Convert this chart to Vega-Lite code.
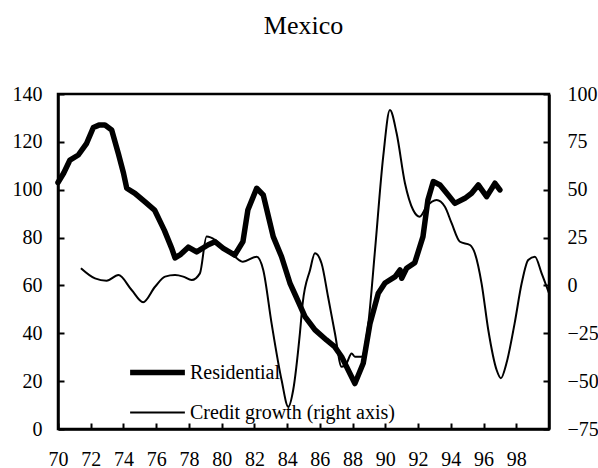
{
  "$schema": "https://vega.github.io/schema/vega-lite/v6.json",
  "autosize": "none",
  "width": 491,
  "height": 335,
  "padding": {"left": 58, "top": 94, "right": 49, "bottom": 39},
  "background": "white",
  "title": {"text": "Mexico", "font": "Liberation Serif", "fontSize": 26, "fontWeight": "normal", "color": "black", "anchor": "middle", "offset": 45},
  "config": {
    "view": {"stroke": "black", "strokeWidth": 2.5},
    "axis": {"labelFont": "Liberation Serif", "labelFontSize": 20, "labelColor": "black", "domainColor": "black", "domainWidth": 2.5, "tickColor": "black", "tickWidth": 2, "tickSize": -6, "grid": false, "title": null}
  },
  "datasets": {
    "res": [
      {"series": "Residential", "year": 70.0, "v": 103},
      {"series": "Residential", "year": 70.35, "v": 107},
      {"series": "Residential", "year": 70.73, "v": 112.4},
      {"series": "Residential", "year": 71.24, "v": 114.5},
      {"series": "Residential", "year": 71.75, "v": 119.4},
      {"series": "Residential", "year": 72.16, "v": 126},
      {"series": "Residential", "year": 72.5, "v": 127},
      {"series": "Residential", "year": 72.87, "v": 127},
      {"series": "Residential", "year": 73.28, "v": 125},
      {"series": "Residential", "year": 73.69, "v": 115},
      {"series": "Residential", "year": 74.0, "v": 107},
      {"series": "Residential", "year": 74.2, "v": 100.6},
      {"series": "Residential", "year": 74.7, "v": 98.5},
      {"series": "Residential", "year": 75.3, "v": 95},
      {"series": "Residential", "year": 75.9, "v": 91.5},
      {"series": "Residential", "year": 76.5, "v": 83},
      {"series": "Residential", "year": 76.95, "v": 75.5},
      {"series": "Residential", "year": 77.15, "v": 71.5},
      {"series": "Residential", "year": 77.5, "v": 73},
      {"series": "Residential", "year": 77.96, "v": 76},
      {"series": "Residential", "year": 78.47, "v": 74},
      {"series": "Residential", "year": 79.18, "v": 77},
      {"series": "Residential", "year": 79.59, "v": 78.3},
      {"series": "Residential", "year": 80.1, "v": 75.5},
      {"series": "Residential", "year": 80.8, "v": 72.7},
      {"series": "Residential", "year": 81.3, "v": 78.3},
      {"series": "Residential", "year": 81.6, "v": 91.5},
      {"series": "Residential", "year": 82.14, "v": 100.6},
      {"series": "Residential", "year": 82.54, "v": 97.8},
      {"series": "Residential", "year": 83.15, "v": 80.4},
      {"series": "Residential", "year": 83.66, "v": 72},
      {"series": "Residential", "year": 84.17, "v": 61},
      {"series": "Residential", "year": 84.5, "v": 56},
      {"series": "Residential", "year": 85.09, "v": 47},
      {"series": "Residential", "year": 85.7, "v": 41.4},
      {"series": "Residential", "year": 86.4, "v": 37.2},
      {"series": "Residential", "year": 86.9, "v": 34.4},
      {"series": "Residential", "year": 87.33, "v": 30.2},
      {"series": "Residential", "year": 88.14, "v": 19},
      {"series": "Residential", "year": 88.65, "v": 27.5},
      {"series": "Residential", "year": 89.06, "v": 44},
      {"series": "Residential", "year": 89.57, "v": 56.7},
      {"series": "Residential", "year": 89.98, "v": 61},
      {"series": "Residential", "year": 90.6, "v": 63.7},
      {"series": "Residential", "year": 90.9, "v": 66.5},
      {"series": "Residential", "year": 91.0, "v": 63},
      {"series": "Residential", "year": 91.3, "v": 67.2},
      {"series": "Residential", "year": 91.8, "v": 69.5},
      {"series": "Residential", "year": 92.3, "v": 80.4},
      {"series": "Residential", "year": 92.6, "v": 95.7},
      {"series": "Residential", "year": 92.93, "v": 103.4},
      {"series": "Residential", "year": 93.34, "v": 102},
      {"series": "Residential", "year": 93.84, "v": 97.8},
      {"series": "Residential", "year": 94.25, "v": 94.3},
      {"series": "Residential", "year": 94.86, "v": 96.4},
      {"series": "Residential", "year": 95.27, "v": 98.5},
      {"series": "Residential", "year": 95.68, "v": 102},
      {"series": "Residential", "year": 96.19, "v": 97.1},
      {"series": "Residential", "year": 96.7, "v": 102.7},
      {"series": "Residential", "year": 97.0, "v": 99.9}
    ],
    "cred": [
      {"series": "Credit growth (right axis)", "year": 71.4, "v": 9},
      {"series": "Credit growth (right axis)", "year": 72.26, "v": 3.7},
      {"series": "Credit growth (right axis)", "year": 72.97, "v": 2.5},
      {"series": "Credit growth (right axis)", "year": 73.69, "v": 5.4},
      {"series": "Credit growth (right axis)", "year": 74.5, "v": -2.4},
      {"series": "Credit growth (right axis)", "year": 75.2, "v": -8.8},
      {"series": "Credit growth (right axis)", "year": 75.93, "v": -0.7},
      {"series": "Credit growth (right axis)", "year": 76.54, "v": 4.6},
      {"series": "Credit growth (right axis)", "year": 77.15, "v": 5.4},
      {"series": "Credit growth (right axis)", "year": 77.65, "v": 4.6},
      {"series": "Credit growth (right axis)", "year": 78.17, "v": 2.8},
      {"series": "Credit growth (right axis)", "year": 78.67, "v": 6.3},
      {"series": "Credit growth (right axis)", "year": 79.08, "v": 25.5},
      {"series": "Credit growth (right axis)", "year": 79.6, "v": 23.7},
      {"series": "Credit growth (right axis)", "year": 80.2, "v": 18.5},
      {"series": "Credit growth (right axis)", "year": 80.8, "v": 15},
      {"series": "Credit growth (right axis)", "year": 81.3, "v": 12.4},
      {"series": "Credit growth (right axis)", "year": 82.14, "v": 15},
      {"series": "Credit growth (right axis)", "year": 82.54, "v": 8.1},
      {"series": "Credit growth (right axis)", "year": 83.05, "v": -19.8},
      {"series": "Credit growth (right axis)", "year": 83.66, "v": -49.4},
      {"series": "Credit growth (right axis)", "year": 84.07, "v": -63.4},
      {"series": "Credit growth (right axis)", "year": 84.37, "v": -54.6},
      {"series": "Credit growth (right axis)", "year": 84.78, "v": -25},
      {"series": "Credit growth (right axis)", "year": 84.95, "v": -9.3},
      {"series": "Credit growth (right axis)", "year": 85.4, "v": 8.1},
      {"series": "Credit growth (right axis)", "year": 85.7, "v": 16.8},
      {"series": "Credit growth (right axis)", "year": 86.1, "v": 11.6},
      {"series": "Credit growth (right axis)", "year": 86.5, "v": -5.9},
      {"series": "Credit growth (right axis)", "year": 86.92, "v": -25},
      {"series": "Credit growth (right axis)", "year": 87.33, "v": -42.5},
      {"series": "Credit growth (right axis)", "year": 87.63, "v": -40.7},
      {"series": "Credit growth (right axis)", "year": 87.94, "v": -35.5},
      {"series": "Credit growth (right axis)", "year": 88.14, "v": -37.2},
      {"series": "Credit growth (right axis)", "year": 88.55, "v": -37.2},
      {"series": "Credit growth (right axis)", "year": 88.96, "v": -19.8},
      {"series": "Credit growth (right axis)", "year": 89.37, "v": 18.5},
      {"series": "Credit growth (right axis)", "year": 89.87, "v": 67.3},
      {"series": "Credit growth (right axis)", "year": 90.28, "v": 91.6},
      {"series": "Credit growth (right axis)", "year": 90.69, "v": 79.5},
      {"series": "Credit growth (right axis)", "year": 91.2, "v": 53.4},
      {"series": "Credit growth (right axis)", "year": 91.7, "v": 39.4},
      {"series": "Credit growth (right axis)", "year": 92.1, "v": 35.9},
      {"series": "Credit growth (right axis)", "year": 92.52, "v": 41.1},
      {"series": "Credit growth (right axis)", "year": 93.13, "v": 44.6},
      {"series": "Credit growth (right axis)", "year": 93.64, "v": 41.1},
      {"series": "Credit growth (right axis)", "year": 94.05, "v": 32.5},
      {"series": "Credit growth (right axis)", "year": 94.56, "v": 22.8},
      {"series": "Credit growth (right axis)", "year": 95.17, "v": 21.1},
      {"series": "Credit growth (right axis)", "year": 95.47, "v": 16.8},
      {"series": "Credit growth (right axis)", "year": 95.88, "v": 1.1},
      {"series": "Credit growth (right axis)", "year": 96.29, "v": -23.3},
      {"series": "Credit growth (right axis)", "year": 96.8, "v": -44.2},
      {"series": "Credit growth (right axis)", "year": 97.06, "v": -48.5},
      {"series": "Credit growth (right axis)", "year": 97.4, "v": -40.7},
      {"series": "Credit growth (right axis)", "year": 97.9, "v": -19.8},
      {"series": "Credit growth (right axis)", "year": 98.33, "v": 1.1},
      {"series": "Credit growth (right axis)", "year": 98.73, "v": 13.3},
      {"series": "Credit growth (right axis)", "year": 99.14, "v": 15},
      {"series": "Credit growth (right axis)", "year": 99.55, "v": 6.3},
      {"series": "Credit growth (right axis)", "year": 100.0, "v": -4}
    ]
  },
  "encoding": {
    "x": {"field": "year", "type": "quantitative", "scale": {"domain": [70, 100], "nice": false, "zero": false},
      "axis": {"orient": "bottom", "values": [70,72,74,76,78,80,82,84,86,88,90,92,94,96,98], "labelPadding": 26, "labelAlign": "center"}}
  },
  "layer": [
    {
      "data": {"name": "res"},
      "mark": {"type": "line", "color": "black", "strokeJoin": "round", "strokeCap": "round"},
      "encoding": {
        "y": {"field": "v", "type": "quantitative", "scale": {"domain": [0, 140], "nice": false},
          "axis": {"orient": "left", "values": [0,20,40,60,80,100,120,140], "labelPadding": 22}},
        "strokeWidth": {"field": "series", "type": "nominal",
          "scale": {"domain": ["Residential", "Credit growth (right axis)"], "range": [5.5, 2]},
          "legend": {"orient": "none", "legendX": 69, "legendY": 248, "title": null, "symbolType": "stroke", "symbolSize": 3000, "symbolStrokeColor": "black", "labelFont": "Liberation Serif", "labelFontSize": 20, "labelColor": "black", "labelOffset": 2, "labelLimit": 500, "rowPadding": -18}}
      }
    },
    {
      "data": {"name": "cred"},
      "mark": {"type": "line", "color": "black", "interpolate": "monotone", "strokeJoin": "round"},
      "encoding": {
        "y": {"field": "v", "type": "quantitative", "scale": {"domain": [-75, 100], "nice": false, "zero": false},
          "axis": {"orient": "right", "values": [-75,-50,-25,0,25,50,75,100], "labelPadding": 24}},
        "strokeWidth": {"field": "series", "type": "nominal",
          "scale": {"domain": ["Residential", "Credit growth (right axis)"], "range": [5.5, 2]}}
      }
    }
  ],
  "resolve": {"scale": {"y": "independent"}}
}
